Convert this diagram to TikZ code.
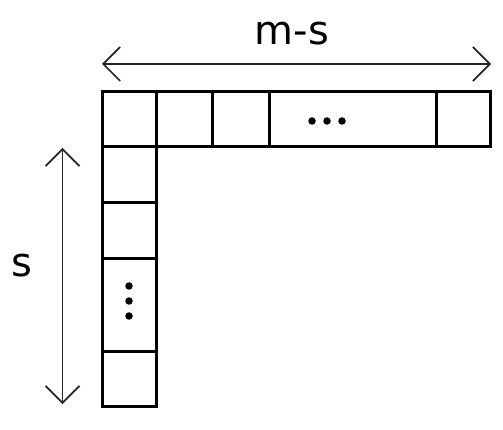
\documentclass[tikz,border=0pt]{standalone}
\usepackage{fontspec}
\setmainfont{DejaVu Sans}
\usetikzlibrary{arrows.meta}
\begin{document}
\begin{tikzpicture}[x=1pt,y=-1pt,
  cell/.style={draw=black, line width=3pt, inner sep=0pt, outer sep=0pt},
  dim/.style={draw=black!85, line width=1.7pt, {Straight Barb[length=17pt,width=34pt,line width=1.7pt]}-{Straight Barb[length=17pt,width=34pt,line width=1.7pt]}},
  lbl/.style={font=\fontsize{40}{42}\selectfont, inner sep=0pt},
  dot/.style={circle, fill=black, inner sep=0pt, minimum size=7.5pt}]
\useasboundingbox (0,0) rectangle (503,430);
% top row
\node[cell, minimum width=54pt, minimum height=55pt] (t1) at (129,119.5) {};
\node[cell, minimum width=56pt, minimum height=55pt] (t2) at (184,119.5) {};
\node[cell, minimum width=57pt, minimum height=55pt] (t3) at (240.5,119.5) {};
\node[cell, minimum width=167pt, minimum height=55pt] (t4) at (352.5,119.5) {};
\node[cell, minimum width=54pt, minimum height=55pt] (t5) at (463,119.5) {};
% column
\node[cell, minimum width=54pt, minimum height=56pt] (c1) at (129,175) {};
\node[cell, minimum width=54pt, minimum height=56pt] (c2) at (129,231) {};
\node[cell, minimum width=54pt, minimum height=92pt] (c3) at (129,305) {};
\node[cell, minimum width=54pt, minimum height=55pt] (c4) at (129,378.5) {};
% dots
\node[dot] (h1) at (312,121) {};
\node[dot] (h2) at (327,121) {};
\node[dot] (h3) at (342,121) {};
\node[dot] (v1) at (129,286) {};
\node[dot] (v2) at (129,301) {};
\node[dot] (v3) at (129,316) {};
% dimension arrows
\coordinate (hl) at (102,64);
\coordinate (hr) at (491,64);
\coordinate (vt) at (62.5,148);
\coordinate (vb) at (62.5,404);
\draw[dim] (hl) -- (hr);
\draw[dim] (vt) -- (vb);
\node[lbl] (ms) at (292,34) {m-s};
\node[lbl] (s) at (22,266) {s};
\end{tikzpicture}
\end{document}
